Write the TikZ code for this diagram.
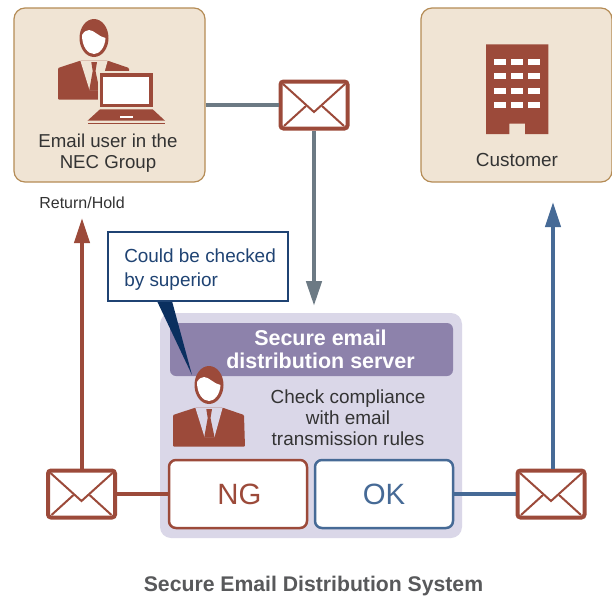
\documentclass[tikz,border=0pt]{standalone}
\usepackage{fontspec}
\setmainfont{Liberation Sans}
\usetikzlibrary{arrows.meta}
\newdimen\px \px=0.75pt
\definecolor{beige}{HTML}{F0E4D4}
\definecolor{beigeedge}{HTML}{B58C56}
\definecolor{brick}{HTML}{9C4A3A}
\definecolor{steel}{HTML}{466A96}
\definecolor{slategrey}{HTML}{6C7A84}
\definecolor{panelbg}{HTML}{DAD7E8}
\definecolor{titlebg}{HTML}{8D82AB}
\definecolor{navy}{HTML}{1F4373}
\definecolor{tailnavy}{HTML}{0A2F5F}
\definecolor{inktext}{HTML}{333333}
\definecolor{captiontext}{HTML}{58595B}
\tikzset{
  x=0.75pt,y=-0.75pt,
  bodytext/.style={text=inktext,font=\fontsize{14.2}{15.8}\selectfont,align=center,inner sep=0pt},
  partybox/.style={draw=beigeedge,fill=beige,line width=1.2\px,rounded corners=11\px,minimum width=191\px,minimum height=174\px,inner sep=0pt},
  resultbox/.style={fill=white,line width=2.5\px,rounded corners=7\px,minimum width=138\px,minimum height=68\px,inner sep=0pt,font=\fontsize{22}{24}\selectfont},
  envbox/.style={draw=brick,fill=white,line width=4\px,rounded corners=3\px,minimum width=67\px,minimum height=47\px,inner sep=0pt},
  envline/.style={draw=brick,line width=2\px},
  greylink/.style={draw=slategrey,line width=4.6\px},
  redlink/.style={draw=brick,line width=4\px},
  bluelink/.style={draw=steel,line width=4\px},
  greyhead/.style={-{Triangle[length=18.75pt,width=11.25pt,fill=slategrey]}},
  redhead/.style={-{Triangle[length=18.75pt,width=11.25pt,fill=brick]}},
  bluehead/.style={-{Triangle[length=18.75pt,width=11.25pt,fill=steel]}},
}
\newcommand{\envelopeat}[3]{%
  \node[envbox] (#1) at (#2,#3) {};
  \draw[envline] (#2-31,#3-21) -- (#2,#3+7) -- (#2+31,#3-21);
  \draw[envline] (#2-30,#3+21) -- (#2-8,#3+1);
  \draw[envline] (#2+30,#3+21) -- (#2+8,#3+1);
}
\newcommand{\personat}[3]{%
  \begin{scope}[shift={(#1,#2)}]
    \fill[brick] (0,0) ellipse [x radius=14.5,y radius=19];
    \fill[white] (-12,-3) .. controls (-10,-6) and (-8,-8) .. (-5,-8)
      .. controls (0,-8) and (5,-1) .. (11.5,0)
      .. controls (11,10) and (5,16) .. (0,16)
      .. controls (-6,16) and (-12,9) .. (-12,-3) -- cycle;
    \fill[brick,rounded corners=0.75pt] (-36,61.7) -- (-36,30) -- (-13.7,22.7) -- (13.7,22.7) -- (35,30) -- (36,61.7) -- cycle;
    \fill[#3] (-13.7,22.5) -- (-4.5,52) -- (5.5,52) -- (13.7,22.5) -- cycle;
    \fill[brick] (-2.7,24) -- (3,24) -- (1.5,33) -- (5.5,52) -- (-4.7,52) -- (-1.3,33) -- cycle;
  \end{scope}
}
\begin{document}
\begin{tikzpicture}
\useasboundingbox (0,0) rectangle (612,597);
\fill[white] (0,0) rectangle (612,597);

% party boxes
\node[partybox] (userbox) at (109.5,95) {};
\node[partybox] (custbox) at (516.5,95) {};

% user with laptop
\personat{94}{38}{beige}
\fill[beige] (98,71) rectangle (155,108.5);
\fill[brick] (100,73.3) rectangle (152.7,107.3);
\fill[white] (103.3,76.7) rectangle (149.3,104);
\fill[brick] (100,109.3) -- (152.7,109.3) -- (165,120.7) -- (87.5,120.7) -- cycle;
\fill[white] (120,116.3) rectangle (132.7,118.3);
\fill[brick] (87.5,122.5) rectangle (165,124.2);
\node[bodytext,font=\fontsize{14}{15.8}\selectfont] (usertext) at (108,153) {Email user in the\\NEC Group};

% building
\fill[brick] (486,44.3) -- (548.3,44.3) -- (548.3,134) -- (525,134) -- (525,123.7) -- (509.3,123.7) -- (509.3,134) -- (486,134) -- cycle;
\foreach \wy in {59,73,87.7,102}{
  \foreach \wx in {494,511,528}{
    \fill[white] (\wx,\wy) rectangle +(12,6);
  }
}
\node[bodytext] (custtext) at (517,160) {Customer};

\node[text=inktext,font=\fontsize{12}{14}\selectfont,inner sep=0pt] (holdtext) at (82,203) {Return/Hold};

% server panel
\node[fill=panelbg,rounded corners=11\px,minimum width=302\px,minimum height=225\px,inner sep=0pt] (panel) at (311,425.5) {};
\node[fill=titlebg,rounded corners=6\px,minimum width=283\px,minimum height=53\px,inner sep=0pt] (title) at (311.5,349.5) {};
\node[text=white,font=\bfseries\fontsize{16.1}{17.2}\selectfont,align=center,inner sep=0pt] (titletext) at (320.5,349.5) {Secure email\\distribution server};
\node[bodytext] (checktext) at (348,418) {Check compliance\\with email\\transmission rules};

% callout
\fill[tailnavy] (157,301) -- (172,301) -- (192,375) -- cycle;
\node[draw=navy,fill=white,line width=2\px,minimum width=180\px,minimum height=69\px,inner sep=0pt] (callout) at (198,266.5) {};
\node[text=navy,font=\fontsize{14.2}{18}\selectfont,align=left,inner sep=0pt,anchor=west] (callouttext) at (124,270) {Could be checked\\by superior};

\personat{209}{385}{panelbg}

% results
\node[resultbox,draw=brick,text=brick] (ng) at (238,494) {\hspace{2pt}NG};
\node[resultbox,draw=steel,text=steel] (ok) at (384,494) {OK};

\coordinate (greyend) at (314,306);
\coordinate (redend) at (82,218);
\coordinate (blueend) at (553,202);
\envelopeat{envtop}{314}{105}
\envelopeat{envleft}{81.5}{494}
\envelopeat{envright}{551}{494}
\draw[greylink] (envtop.west -| userbox.east) -- (envtop.west);
\draw[greylink,greyhead] (envtop.south) -- (greyend);
\draw[redlink] (ng.west) -- (envleft.east);
\draw[redlink,redhead] (envleft.north -| redend) -- (redend);
\draw[bluelink] (ok.east) -- (envright.west);
\draw[bluelink,bluehead] (envright.north -| blueend) -- (blueend);

\node[text=captiontext,font=\bfseries\fontsize{15.9}{18}\selectfont,inner sep=0pt] (caption) at (313.5,586) {Secure Email Distribution System};
\end{tikzpicture}
\end{document}
